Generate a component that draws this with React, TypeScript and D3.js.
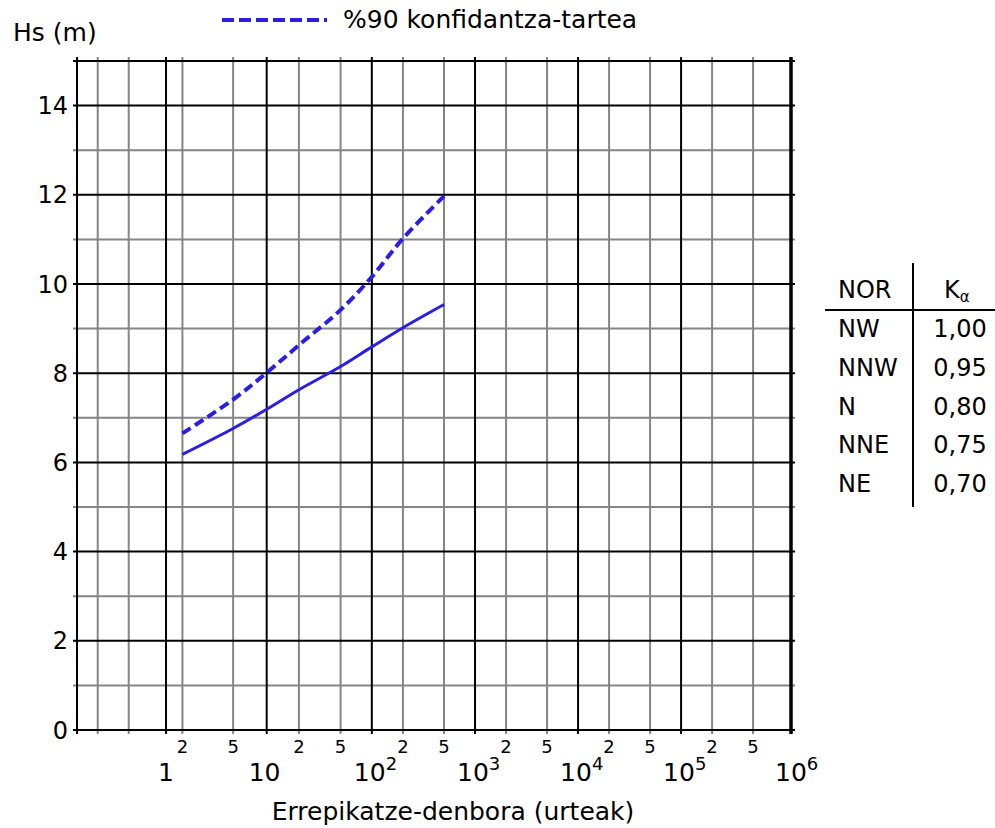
import { useMemo } from "react";
import * as d3 from "d3";

// Return period (years) and significant wave height (m)
const returnPeriods = [2, 5, 10, 20, 50, 100, 200, 500];
const hsCentral = [6.18, 6.76, 7.19, 7.63, 8.15, 8.59, 9.02, 9.54];
const hsUpper90 = [6.65, 7.41, 8.01, 8.63, 9.42, 10.16, 11.02, 11.97];

// Axis grid definitions
const hsMajor = [0, 2, 4, 6, 8, 10, 12, 14];
const hsMinor = [1, 3, 5, 7, 9, 11, 13];
const decadeExponents = [1, 2, 3, 4, 5];
const minorMultipliers = [2, 5];
const lowProbLines = [0.01, 0.1]; // non-exceedance probs left of "1"

// Direction table
const directions = ["NW", "NNW", "N", "NNE", "NE"];
const kAlpha = ["1,00", "0,95", "0,80", "0,75", "0,70"];

const FONT = "DejaVu Sans, Verdana, sans-serif";
const BLUE = "#2a1ee4";

// Gumbel reduced variate for return period T
const gumbel = (T: number) => -Math.log(-Math.log(1 - 1 / T));

export default function App() {
  const width = 995;
  const height = 828;
  const left = 77;
  const right = 791;
  const top = 61;
  const bottom = 730;

  const x = useMemo(
    () => d3.scaleLinear().domain([-1.99, 13.97]).range([left, right]),
    []
  );
  const y = useMemo(
    () => d3.scaleLinear().domain([0, 15]).range([bottom, top]),
    []
  );

  const line = d3
    .line<number>()
    .x((_, i) => x(gumbel(returnPeriods[i])))
    .y((d) => y(d))
    .curve(d3.curveCatmullRom);

  const majorX = [0, ...decadeExponents.map((e) => gumbel(Math.pow(10, e)))];
  const minorT: number[] = [];
  [0, ...decadeExponents].forEach((e) =>
    minorMultipliers.forEach((m) => minorT.push(m * Math.pow(10, e)))
  );
  const extraX = lowProbLines.map((p) => -Math.log(-Math.log(p)));

  const ext = 4;

  return (
    <svg
      width={width}
      height={height}
      style={{ position: "absolute", left: 0, top: 0, background: "#fff" }}
      fontFamily={FONT}
    >
      {/* gray grid */}
      <g stroke="#858585" strokeWidth={2}>
        {hsMinor.map((v) => (
          <line key={"hy" + v} x1={left - ext} x2={right + ext} y1={y(v)} y2={y(v)} />
        ))}
        {[...extraX, ...minorT.map(gumbel)].map((v, i) => (
          <line key={"vx" + i} x1={x(v)} x2={x(v)} y1={top - ext} y2={bottom + ext} />
        ))}
      </g>
      {/* black grid */}
      <g stroke="#000" strokeWidth={2}>
        {hsMajor.map((v) => (
          <line key={"my" + v} x1={left - ext} x2={right + ext} y1={y(v)} y2={y(v)} />
        ))}
        {majorX.map((v, i) => (
          <line key={"mx" + i} x1={x(v)} x2={x(v)} y1={top - ext} y2={bottom + ext} />
        ))}
        <line x1={left - ext} x2={right + ext} y1={top} y2={top} />
        <line x1={left} x2={left} y1={top - ext} y2={bottom + ext} />
      </g>
      <line x1={right} x2={right} y1={top - ext} y2={bottom + ext} stroke="#000" strokeWidth={3.5} />

      {/* series */}
      <path d={line(hsCentral) ?? ""} fill="none" stroke={BLUE} strokeWidth={3} />
      <path
        d={line(hsUpper90) ?? ""}
        fill="none"
        stroke={BLUE}
        strokeWidth={4}
        strokeDasharray="10,5"
      />

      {/* y ticks */}
      {hsMajor.map((v) => (
        <text key={"ty" + v} x={68} y={y(v)} dy="0.36em" textAnchor="end" fontSize={24}>
          {v}
        </text>
      ))}
      <text x={13} y={41} fontSize={25}>
        Hs (m)
      </text>

      {/* x minor tick labels */}
      {minorT.map((t) => (
        <text key={"tm" + t} x={x(gumbel(t))} y={753} textAnchor="middle" fontSize={18}>
          {String(t)[0]}
        </text>
      ))}
      {/* x major labels */}
      <text x={x(0)} y={781} textAnchor="middle" fontSize={25}>
        1
      </text>
      {decadeExponents.map((e) => (
        <text key={"te" + e} x={x(gumbel(Math.pow(10, e))) - 18} y={781} fontSize={25}>
          10
          {e > 1 && (
            <tspan dy={-11} fontSize={18}>
              {e}
            </tspan>
          )}
        </text>
      ))}
      <text x={right - 16} y={781} fontSize={25}>
        10
        <tspan dy={-11} fontSize={18}>
          6
        </tspan>
      </text>
      <text x={453} y={820} textAnchor="middle" fontSize={25}>
        Errepikatze-denbora (urteak)
      </text>

      {/* legend */}
      <line x1={222} x2={327} y1={20} y2={20} stroke={BLUE} strokeWidth={4} strokeDasharray="12,5" />
      <text x={343} y={28} fontSize={25}>
        %90 konfidantza-tartea
      </text>

      {/* direction table */}
      <line x1={913} x2={913} y1={263} y2={507} stroke="#000" strokeWidth={2} />
      <line x1={825} x2={995} y1={310} y2={310} stroke="#000" strokeWidth={2} />
      <text x={838} y={298} fontSize={24}>
        NOR
      </text>
      <text x={944} y={298} fontSize={24}>
        K
        <tspan dy={4} fontSize={15}>
          α
        </tspan>
      </text>
      {directions.map((d, i) => (
        <g key={d}>
          <text x={838} y={337 + i * 38.8} fontSize={24}>
            {d}
          </text>
          <text x={960} y={337 + i * 38.8} textAnchor="middle" fontSize={24}>
            {kAlpha[i]}
          </text>
        </g>
      ))}
    </svg>
  );
}
